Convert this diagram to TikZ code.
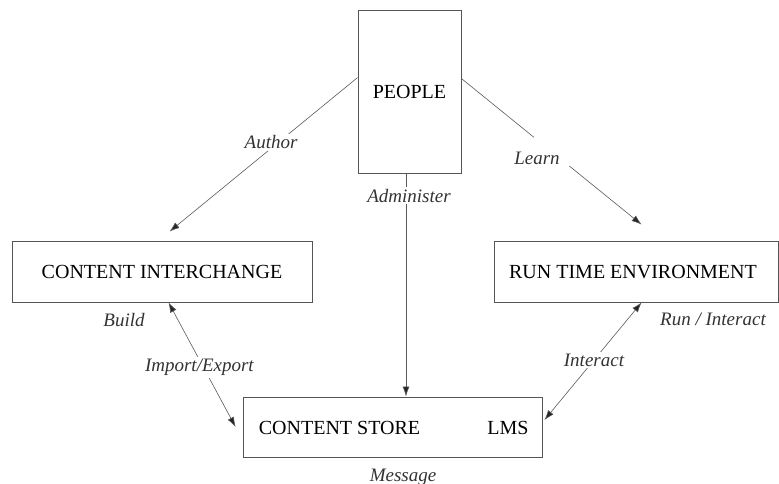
\documentclass[tikz,border=0pt]{standalone}
\usepackage{fontspec}
\setmainfont{Liberation Serif}
\usetikzlibrary{arrows.meta,calc}
\definecolor{edgegray}{HTML}{555555}
\definecolor{linkgray}{HTML}{5A5A5A}
\definecolor{labelgray}{HTML}{333333}
\tikzset{
  box/.style={draw=edgegray, line width=0.9pt, inner sep=0pt, fill=white,
    font=\fontsize{20}{24}\selectfont, text=black},
  boxtext/.style={inner sep=0pt, font=\fontsize{20}{24}\selectfont, text=black},
  tip/.tip={Latex[length=10pt,width=7pt,fill=black!85]},
  link/.style={draw=linkgray, line width=0.6pt, -tip},
  twoway/.style={draw=linkgray, line width=0.6pt, tip-tip},
  tag/.style={font=\fontsize{19}{23}\selectfont\itshape, text=labelgray,
    inner sep=2pt},
  masktag/.style={tag, fill=white},
  gap/.style={fill=white, inner sep=0pt},
}
\begin{document}
\begin{tikzpicture}[x=1pt,y=-1pt]
  \useasboundingbox (0,0) rectangle (779,484);

  % boxes
  \node[box, minimum width=103pt, minimum height=163pt] (people) at (409.5,91.5) {PEOPLE};
  \node[box, minimum width=300pt, minimum height=61pt] (ci) at (162,271.5) {CONTENT INTERCHANGE};
  \node[box, minimum width=284pt, minimum height=61pt] (rte) at (636,271.5) {};
  \node[boxtext] (rtetext) at (633,272) {RUN TIME ENVIRONMENT};
  \node[box, minimum width=299pt, minimum height=60pt] (cs) at (392.5,427) {};
  \node[boxtext] (cstext) at (339.5,428) {CONTENT STORE};
  \node[boxtext] (lms) at (508,428) {LMS};

  % end points of the links
  \coordinate (authorstart) at ($(people.north west)+(0,68)$);
  \coordinate (authorend) at ($(ci.north west)+(158,-9)$);
  \coordinate (learnstart) at ($(people.north east)+(0,69)$);
  \coordinate (learnend) at ($(rte.north west)+(148,-16)$);
  \coordinate (adminstart) at (people.south -| 406,0);
  \coordinate (adminend) at (cs.north -| 406,0);
  \coordinate (ieup) at ($(ci.south west)+(157,0)$);
  \coordinate (iedown) at ($(cs.west)+(-7,0)$);
  \coordinate (intup) at ($(rte.south west)+(148,0)$);
  \coordinate (intdown) at ($(cs.east)+(2,-7)$);

  % links (shifts are in page direction: positive yshift moves up)
  \draw[link] (authorstart) -- node[masktag, pos=0.46, yshift=6pt] (author) {Author} (authorend);
  \draw[link] (learnstart) -- node[gap, pos=0.5, minimum width=36pt, minimum height=29pt] (learngap) {} (learnend);
  \node[masktag] (learn) at (537,158) {Learn};
  \draw[link] (adminstart) -- node[masktag, pos=0.1, xshift=3pt] (admin) {Administer} (adminend);
  \draw[twoway] (ieup) -- node[masktag, pos=0.52, xshift=-4pt] (ie) {Import/Export} (iedown);
  \draw[twoway] (intup) -- node[masktag, pos=0.49] (interact) {Interact} (intdown);

  % free labels
  \node[tag] (build) at (124,320) {Build};
  \node[tag] (runinteract) at (713,319) {Run / Interact};
  \node[tag] (message) at (403,477) {Message};
\end{tikzpicture}
\end{document}
